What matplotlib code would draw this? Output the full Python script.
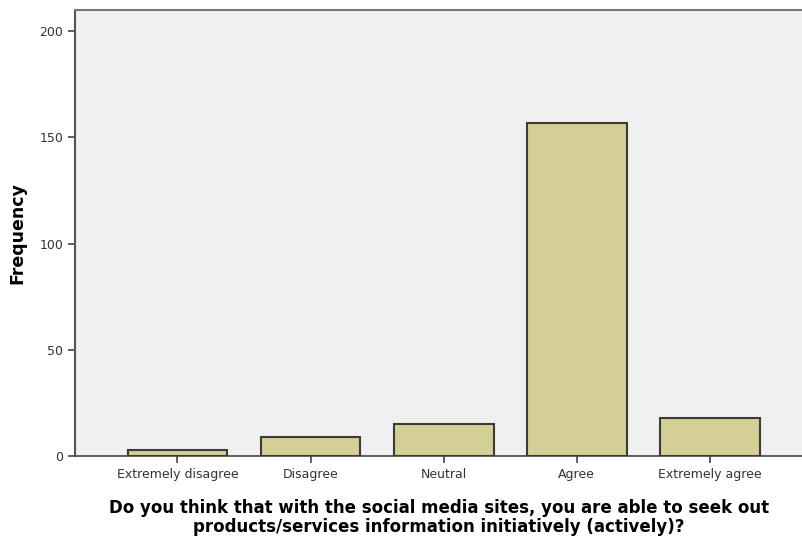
import matplotlib
matplotlib.use("Agg")
import matplotlib.pyplot as plt

# response counts
categories = ["Extremely disagree", "Disagree", "Neutral", "Agree", "Extremely agree"]
counts = [3, 9, 15, 157, 18]
yticks = [0, 50, 100, 150, 200]

fig = plt.figure(figsize=(8.03, 5.41), dpi=100)
ax = fig.add_axes([75 / 803, 85 / 541, 728 / 803, 446 / 541])
ax.set_facecolor("#f0f0f0")

x = list(range(len(categories)))
ax.bar(x, counts, width=0.75, color="#d4cf96", edgecolor="#3c3c34", linewidth=1.5, zorder=3)

ax.set_xlim(-0.77, 4.7)
ax.set_ylim(0, 210)
ax.set_yticks(yticks)
ax.set_xticks(x)
ax.set_xticklabels(categories)

ax.spines["right"].set_visible(False)
ax.spines["left"].set_color("#555555")
ax.spines["left"].set_linewidth(1.5)
ax.spines["top"].set_color("#777777")
ax.spines["top"].set_linewidth(1.5)
ax.spines["bottom"].set_color("#444444")
ax.spines["bottom"].set_linewidth(1.2)

ax.tick_params(axis="both", direction="out", length=5, width=1.2, colors="#444444",
               labelsize=9, labelcolor="#333333")

ax.set_ylabel("Frequency", fontsize=12.5, fontweight="bold", labelpad=9)
ax.set_xlabel("Do you think that with the social media sites, you are able to seek out\n"
              "products/services information initiatively (actively)?",
              fontsize=12, fontweight="bold", linespacing=1.07, labelpad=13)

fig.savefig("out.png", dpi=100)
